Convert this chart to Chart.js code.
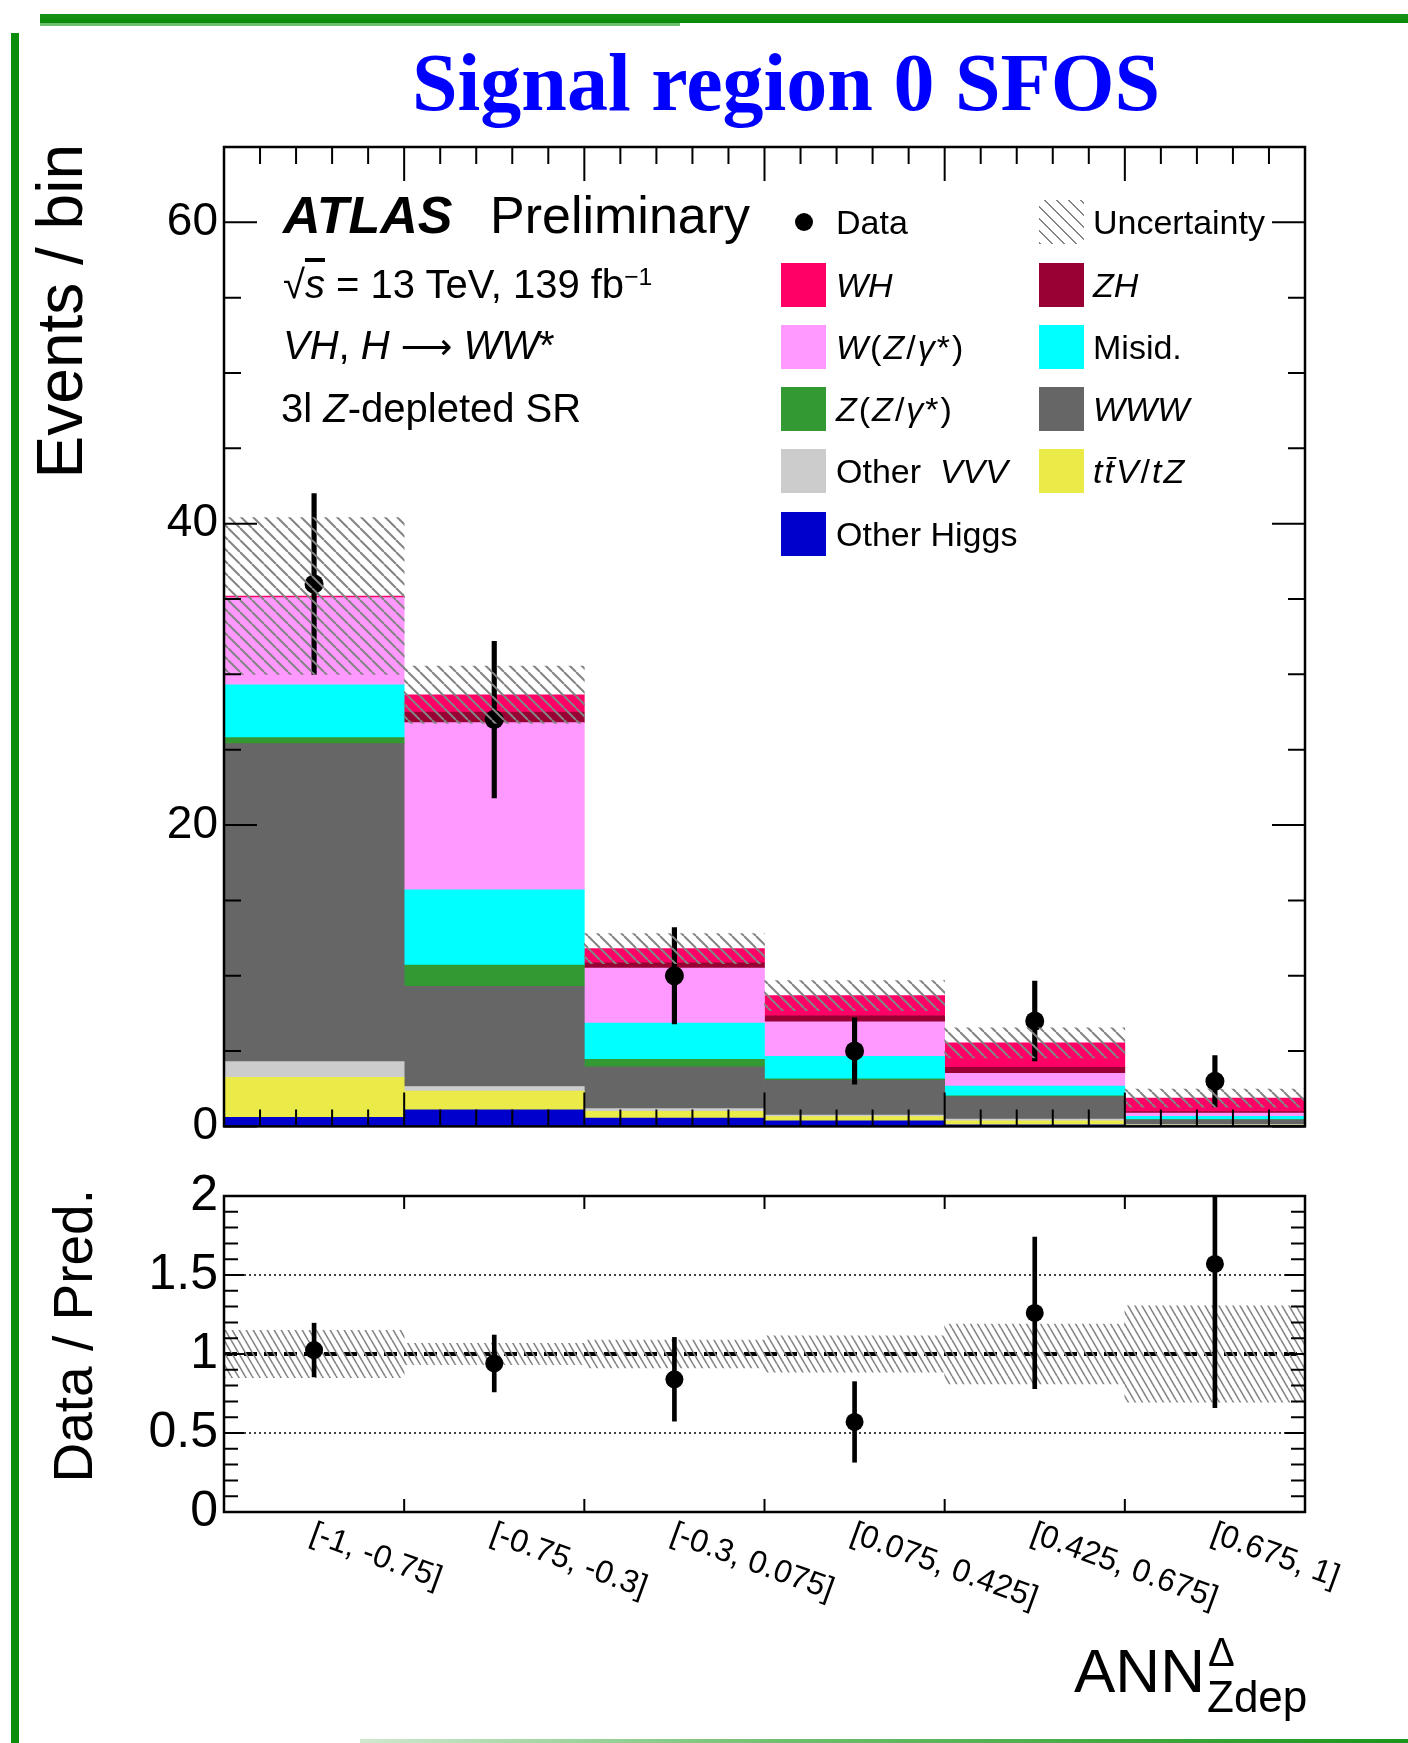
<!DOCTYPE html>
<html>
<head>
<meta charset="utf-8">
<title>Signal region 0 SFOS</title>
<script src="https://cdn.jsdelivr.net/npm/chart.js@4.4.1/dist/chart.umd.min.js"></script>
<style>
  html, body { margin: 0; padding: 0; background: #fff; overflow: hidden; }
  #page { position: relative; width: 1408px; height: 1743px; font-family: "Liberation Sans", Arial, sans-serif; color: #000; }
  #page canvas { position: absolute; left: 0; }
  .txt { position: absolute; white-space: nowrap; line-height: 1; }
  .sup { position: relative; top: -0.55em; font-size: 0.62em; }
  .box { position: absolute; width: 45px; height: 44px; }
  .deco { position: absolute; background: #0b8c0b; }
  .wide { letter-spacing: 2px; }
  .arrow { font-family: "DejaVu Sans", sans-serif; font-size: 0.9em; }
</style>
</head>
<body>
<div id="page">
  <canvas id="mainChart" width="1408" height="1160" style="top:0"></canvas>
  <canvas id="ratioChart" width="1408" height="583" style="top:1160px"></canvas>
  <div id="overlay"></div>
</div>
<script>
// bins of the ANN output
const binLabels = ["[-1, -0.75]", "[-0.75, -0.3]", "[-0.3, 0.075]", "[0.075, 0.425]", "[0.425, 0.675]", "[0.675, 1]"];

// predicted events per process, bottom of the stack first
const otherHiggs = [0.6, 1.1, 0.55, 0.37, 0.11, 0.03];
const ttVtZ      = [2.65, 1.25, 0.45, 0.29, 0.26, 0.06];
const otherVVV   = [1.05, 0.3, 0.18, 0.09, 0.11, 0.03];
const WWW        = [21.1, 6.65, 2.77, 2.33, 1.5, 0.32];
const ZZgamma    = [0.4, 1.4, 0.5, 0.07, 0.05, 0.01];
const misid      = [3.5, 5.0, 2.4, 1.5, 0.64, 0.22];
const WZgamma    = [5.8, 11.1, 3.65, 2.29, 0.85, 0.22];
const ZH         = [0.0, 0.7, 0.35, 0.39, 0.4, 0.09];
const WH         = [0.1, 1.15, 0.95, 1.35, 1.63, 0.9];

const dataEvents = [36, 27, 10, 5, 7, 3];
const dataErr    = [6, 5.2, 3.2, 2.2, 2.65, 1.7];
const bkgUnc     = [5.2, 1.9, 1.0, 1.0, 1.0, 0.6];

const ratio    = [1.025, 0.94, 0.84, 0.57, 1.26, 1.57];
const ratioErr = [0.17, 0.18, 0.265, 0.255, 0.48, 0.91];
const ratioUnc = [0.15, 0.067, 0.088, 0.115, 0.19, 0.305];

const mainYTicks  = [0, 20, 40, 60];
const ratioYTicks = [0, 0.5, 1, 1.5, 2];
const ratioGuides = [0.5, 1.5];

const stackSeries = [otherHiggs, ttVtZ, otherVVV, WWW, ZZgamma, misid, WZgamma, ZH, WH];
const stackNames  = ["Other Higgs", "ttV/tZ", "Other VVV", "WWW", "Z(Z/γ*)", "Misid.", "W(Z/γ*)", "ZH", "WH"];
const stackColors = ["#0000cc", "#eaea48", "#cccccc", "#666666", "#339933", "#00ffff", "#ff99ff", "#990033", "#ff0066"];

const total = binLabels.map((_, i) => stackSeries.reduce((s, arr) => s + arr[i], 0));

Chart.defaults.font.family = "'Liberation Sans', Arial, sans-serif";
Chart.defaults.color = "#000";

function hatch(w, h, lw, color) {
  const c = document.createElement("canvas");
  c.width = w;
  c.height = h;
  const g = c.getContext("2d");
  g.strokeStyle = color;
  g.lineWidth = lw;
  g.beginPath();
  for (const dx of [-w, 0, w]) {
    g.moveTo(dx, 0);
    g.lineTo(dx + w, h);
  }
  g.stroke();
  return g.createPattern(c, "repeat");
}

// ROOT style frame with inward ticks on all four sides
const frameTicks = {
  id: "frameTicks",
  afterDatasetsDraw(chart, args, o) {
    const { ctx, chartArea: a, scales: { x, y } } = chart;
    ctx.save();
    ctx.strokeStyle = "#000";
    ctx.lineWidth = 2;
    ctx.beginPath();
    const n = chart.data.labels.length;
    for (let i = 0; i <= n * o.xSub; i++) {
      const px = x.getPixelForValue(-0.5 + i / o.xSub);
      const len = i % o.xSub === 0 ? o.xMajor : o.xMinor;
      ctx.moveTo(px, a.bottom);
      ctx.lineTo(px, a.bottom - len);
      ctx.moveTo(px, a.top);
      ctx.lineTo(px, a.top + len);
    }
    const steps = Math.round((y.max - y.min) / o.yStep);
    const every = Math.round(o.yMajorStep / o.yStep);
    for (let k = 0; k <= steps; k++) {
      const py = y.getPixelForValue(y.min + k * o.yStep);
      const len = k % every === 0 ? o.yMajor : o.yMinor;
      ctx.moveTo(a.left, py);
      ctx.lineTo(a.left + len, py);
      ctx.moveTo(a.right, py);
      ctx.lineTo(a.right - len, py);
    }
    ctx.stroke();
    ctx.lineWidth = 2.5;
    ctx.strokeRect(a.left, a.top, a.right - a.left, a.bottom - a.top);
    ctx.restore();
  }
};

const guideLines = {
  id: "guideLines",
  beforeDatasetsDraw(chart) {
    const { ctx, chartArea: a, scales: { y } } = chart;
    ctx.save();
    ctx.strokeStyle = "#000";
    ctx.lineWidth = 1.5;
    ctx.setLineDash([2, 3]);
    ratioGuides.forEach((v) => {
      const py = y.getPixelForValue(v);
      ctx.beginPath();
      ctx.moveTo(a.left, py);
      ctx.lineTo(a.right, py);
      ctx.stroke();
    });
    ctx.lineWidth = 4;
    ctx.setLineDash([13, 7]);
    const p1 = y.getPixelForValue(1);
    ctx.beginPath();
    ctx.moveTo(a.left, p1);
    ctx.lineTo(a.right, p1);
    ctx.stroke();
    ctx.restore();
  }
};

// bin labels rotated clockwise, starting under each bin centre
const binLabelText = {
  id: "binLabelText",
  afterDraw(chart) {
    const { ctx, chartArea: a, scales: { x } } = chart;
    ctx.save();
    ctx.fillStyle = "#000";
    ctx.font = "32px 'Liberation Sans'";
    ctx.textAlign = "left";
    ctx.textBaseline = "top";
    binLabels.forEach((lab, i) => {
      ctx.save();
      ctx.translate(x.getPixelForValue(i) + 3, a.bottom + 6);
      ctx.rotate((20 * Math.PI) / 180);
      ctx.fillText(lab, 0, 0);
      ctx.restore();
    });
    ctx.restore();
  }
};

function yAxis(min, max, ticks, size) {
  return {
    min: min,
    max: max,
    afterFit: (s) => { s.width = 224; },
    afterBuildTicks: (s) => { s.ticks = ticks.map((v) => ({ value: v })); },
    grid: { display: false, drawTicks: false },
    border: { display: false },
    ticks: { padding: 6, color: "#000", font: { size: size }, callback: (v) => String(v) }
  };
}

const mainHatch = hatch(12, 12, 2, "#848484");
const ratioHatch = hatch(7, 12, 1.6, "#848484");

new Chart(document.getElementById("mainChart"), {
  type: "bar",
  data: {
    labels: binLabels,
    datasets: [
      {
        label: "Uncertainty",
        data: total.map((t, i) => [t - bkgUnc[i], t + bkgUnc[i]]),
        backgroundColor: mainHatch,
        stack: "unc"
      },
      {
        type: "line",
        label: "Data",
        data: dataEvents,
        showLine: false,
        pointRadius: 9.5,
        pointBackgroundColor: "#000",
        pointBorderWidth: 0
      },
      {
        label: "Data error",
        data: dataEvents.map((v, i) => [v - dataErr[i], v + dataErr[i]]),
        backgroundColor: "#000",
        maxBarThickness: 4.5,
        stack: "err"
      },
      ...stackSeries.map((s, i) => ({
        label: stackNames[i],
        data: s,
        backgroundColor: stackColors[i],
        stack: "bkg"
      }))
    ]
  },
  options: {
    responsive: false,
    animation: false,
    events: [],
    layout: { padding: { left: 0, right: 103, top: 147, bottom: 29 } },
    datasets: { bar: { grouped: false, barPercentage: 1, categoryPercentage: 1, borderWidth: 0 } },
    plugins: {
      legend: { display: false },
      tooltip: { enabled: false },
      frameTicks: { xSub: 5, xMajor: 34, xMinor: 17, yStep: 5, yMajorStep: 20, yMajor: 33, yMinor: 17 }
    },
    scales: {
      x: { display: false, stacked: true, offset: true },
      y: Object.assign(yAxis(0, 65, mainYTicks, 46), { stacked: true })
    }
  },
  plugins: [frameTicks]
});

new Chart(document.getElementById("ratioChart"), {
  type: "bar",
  data: {
    labels: binLabels,
    datasets: [
      {
        type: "line",
        label: "Data / Pred.",
        data: ratio,
        showLine: false,
        pointRadius: 9,
        pointBackgroundColor: "#000",
        pointBorderWidth: 0
      },
      {
        label: "Ratio error",
        data: ratio.map((r, i) => [r - ratioErr[i], r + ratioErr[i]]),
        backgroundColor: "#000",
        maxBarThickness: 4,
        clip: 0
      },
      {
        label: "Uncertainty",
        data: ratioUnc.map((u) => [1 - u, 1 + u]),
        backgroundColor: ratioHatch
      }
    ]
  },
  options: {
    responsive: false,
    animation: false,
    events: [],
    layout: { padding: { left: 0, right: 103, top: 31, bottom: 231 } },
    datasets: { bar: { grouped: false, barPercentage: 1, categoryPercentage: 1, borderWidth: 0 } },
    plugins: {
      legend: { display: false },
      tooltip: { enabled: false },
      frameTicks: { xSub: 1, xMajor: 13, xMinor: 13, yStep: 0.1, yMajorStep: 0.5, yMajor: 20, yMinor: 14 }
    },
    scales: {
      x: { display: false, offset: true },
      y: yAxis(0, 2, ratioYTicks, 50)
    }
  },
  plugins: [guideLines, frameTicks, binLabelText]
});

// text, legend and decoration
const overlay = document.getElementById("overlay");

function put(html, x, base, size, css) {
  const d = document.createElement("div");
  d.className = "txt";
  d.innerHTML = html;
  d.style.fontSize = size + "px";
  d.style.left = x + "px";
  d.style.top = base - 0.8465 * size + "px";
  if (css) d.style.cssText += css;
  overlay.appendChild(d);
  return d;
}

function putVertical(text, baseX, topEnd, size) {
  const w = 500;
  const d = document.createElement("div");
  d.className = "txt";
  d.textContent = text;
  d.style.cssText += `font-size:${size}px;width:${w}px;text-align:right;left:${baseX - 0.8465 * size}px;top:${topEnd + w}px;transform-origin:0 0;transform:rotate(-90deg);`;
  overlay.appendChild(d);
}

function deco(x, y, w, h, css) {
  const d = document.createElement("div");
  d.className = "deco";
  d.style.cssText += `left:${x}px;top:${y}px;width:${w}px;height:${h}px;` + (css || "");
  overlay.appendChild(d);
}

deco(40, 14, 1368, 9, "background:linear-gradient(to bottom,#1a941a,#078a07);");
deco(40, 23, 640, 3, "background:#6cbf6c;");
deco(11, 33, 8, 1710);
deco(360, 1739, 1048, 4, "background:linear-gradient(to right,#cfe9cf,#6fc06f 40%,#1a961a);");

const title = put("Signal region 0 SFOS", 786, 111, 82,
  "font-family:'Liberation Serif',serif;font-weight:bold;color:#0000ff;transform:translateX(-50%);");
title.style.top = 111 - 0.8375 * 82 + "px";

put("<b><i>ATLAS</i></b>", 283, 233, 52);
put("Preliminary", 490, 233, 52);
put("√<i style='text-decoration:overline'>s</i> = 13 TeV, 139 fb<span class='sup'>−1</span>", 283, 298, 40);
put("<i>VH</i>, <i>H</i> <span class='arrow'>⟶</span> <i>WW</i>*", 283, 359, 40);
put("3l <i>Z</i>-depleted SR", 281, 422, 40);

putVertical("Events / bin", 82, 144, 64);
putVertical("Data / Pred.", 93, 1189, 55);

put("ANN", 1074, 1692, 62);
put("Δ", 1208, 1666, 40);
put("Zdep", 1207, 1712, 44);

// legend
const legendRows = [222, 284.5, 347, 409, 471, 533.5];
const legendHtml = {
  "Other Higgs": "Other Higgs",
  "ttV/tZ": "<span class='wide'><i>tt̄V</i>/<i>tZ</i></span>",
  "Other VVV": "Other&nbsp; <i>VVV</i>",
  "WWW": "<i>WWW</i>",
  "Z(Z/γ*)": "<span class='wide'><i>Z</i>(<i>Z</i>/<i>γ</i>*)</span>",
  "Misid.": "Misid.",
  "W(Z/γ*)": "<span class='wide'><i>W</i>(<i>Z</i>/<i>γ</i>*)</span>",
  "ZH": "<i>ZH</i>",
  "WH": "<i>WH</i>"
};
const legendCols = [
  ["Data", "WH", "W(Z/γ*)", "Z(Z/γ*)", "Other VVV", "Other Higgs"],
  ["Uncertainty", "ZH", "Misid.", "WWW", "ttV/tZ"]
];
const colBoxX = [781, 1039];
const colTextX = [836, 1093];

legendCols.forEach((col, c) => {
  col.forEach((name, r) => {
    const cy = legendRows[r];
    const b = document.createElement("div");
    b.className = "box";
    b.style.left = colBoxX[c] + "px";
    b.style.top = cy - 22 + "px";
    if (name === "Data") {
      b.style.cssText += "width:18px;height:18px;border-radius:50%;background:#000;";
      b.style.left = colBoxX[c] + 13.5 + "px";
      b.style.top = cy - 9 + "px";
    } else if (name === "Uncertainty") {
      b.style.background = "repeating-linear-gradient(45deg,#848484 0 2px,transparent 2px 8.5px)";
    } else {
      b.style.background = stackColors[stackNames.indexOf(name)];
    }
    overlay.appendChild(b);
    put(legendHtml[name] || name, colTextX[c], cy + 12, 34);
  });
});
</script>
</body>
</html>
